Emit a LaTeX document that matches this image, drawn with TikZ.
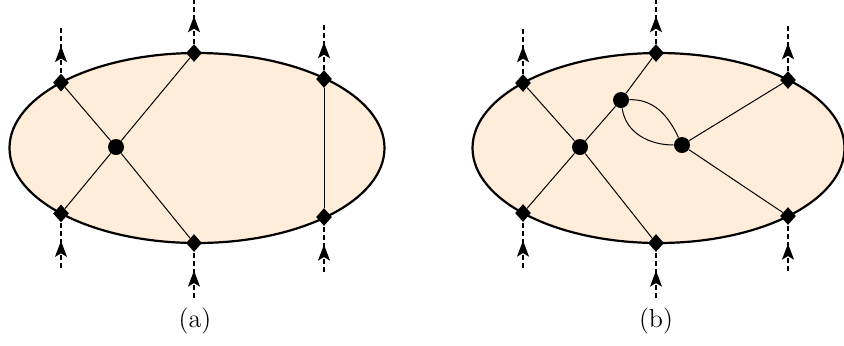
\documentclass[tikz,border=0pt]{standalone}
\usetikzlibrary{shapes.geometric,arrows.meta,decorations.markings}
\begin{document}
\begin{tikzpicture}[x=0.5pt,y=-0.5pt,
  region/.style={fill=orange!15, draw=black, line width=1.1pt},
  port/.style={diamond, fill=black, inner sep=0pt, minimum width=8pt, minimum height=9pt},
  vtx/.style={circle, fill=black, inner sep=0pt, minimum size=8pt},
  edge/.style={line width=0.5pt},
  ext/.style={line width=0.6pt, dash pattern=on 2.5pt off 1.5pt,
    postaction={decorate},
    decoration={markings, mark=at position 0.6 with {\arrow{Stealth[length=8pt,width=6pt,inset=1.8pt]}}}},
  lab/.style={font=\fontsize{13}{15}\selectfont}]
\useasboundingbox (0,0) rectangle (844,345);
% ---------- (a) ----------
\path[region] (197,148) ellipse [x radius=93.75pt, y radius=47.5pt];
\node[port] (a1) at (61,82.6) {};
\node[port] (a2) at (61,213.4) {};
\node[port] (a3) at (194,53) {};
\node[port] (a4) at (194,243) {};
\node[port] (a5) at (324,79) {};
\node[port] (a6) at (324,217) {};
\node[vtx] (av) at (116,147) {};
\draw[edge] (a1) -- (av) -- (a4);
\draw[edge] (a2) -- (av) -- (a3);
\draw[edge] (a5) -- (a6);
\coordinate (at1) at (61,28);
\coordinate (at3) at (194,-2);
\coordinate (at5) at (324,24);
\coordinate (ab2) at (61,268);
\coordinate (ab4) at (194,298);
\coordinate (ab6) at (324,272);
\draw[ext] (a1) -- (at1);
\draw[ext] (a3) -- (at3);
\draw[ext] (a5) -- (at5);
\draw[ext] (ab2) -- (a2);
\draw[ext] (ab4) -- (a4);
\draw[ext] (ab6) -- (a6);
\node[lab] (la) at (195,321) {(a)};
% ---------- (b) ----------
\path[region] (658.5,148) ellipse [x radius=93pt, y radius=47.5pt];
\node[port] (b1) at (523,83) {};
\node[port] (b2) at (523,213) {};
\node[port] (b3) at (656,53) {};
\node[port] (b4) at (656,243) {};
\node[port] (b5) at (788,80) {};
\node[port] (b6) at (788,216) {};
\node[vtx] (bv1) at (580,147) {};
\node[vtx] (bv2) at (621,100) {};
\node[vtx] (bv3) at (682,145) {};
\draw[edge] (b1) -- (bv1) -- (b4);
\draw[edge] (b2) -- (bv1) -- (bv2) -- (b3);
\draw[edge] (bv2) to[out=2,in=115] (bv3);
\draw[edge] (bv2) to[out=-82,in=180] (bv3);
\draw[edge] (b5) -- (bv3) -- (b6);
\coordinate (bt1) at (523,28);
\coordinate (bt3) at (656,-2);
\coordinate (bt5) at (788,25);
\coordinate (bb2) at (523,268);
\coordinate (bb4) at (656,298);
\coordinate (bb6) at (788,271);
\draw[ext] (b1) -- (bt1);
\draw[ext] (b3) -- (bt3);
\draw[ext] (b5) -- (bt5);
\draw[ext] (bb2) -- (b2);
\draw[ext] (bb4) -- (b4);
\draw[ext] (bb6) -- (b6);
\node[lab] (lb) at (656,321) {(b)};
\end{tikzpicture}
\end{document}
